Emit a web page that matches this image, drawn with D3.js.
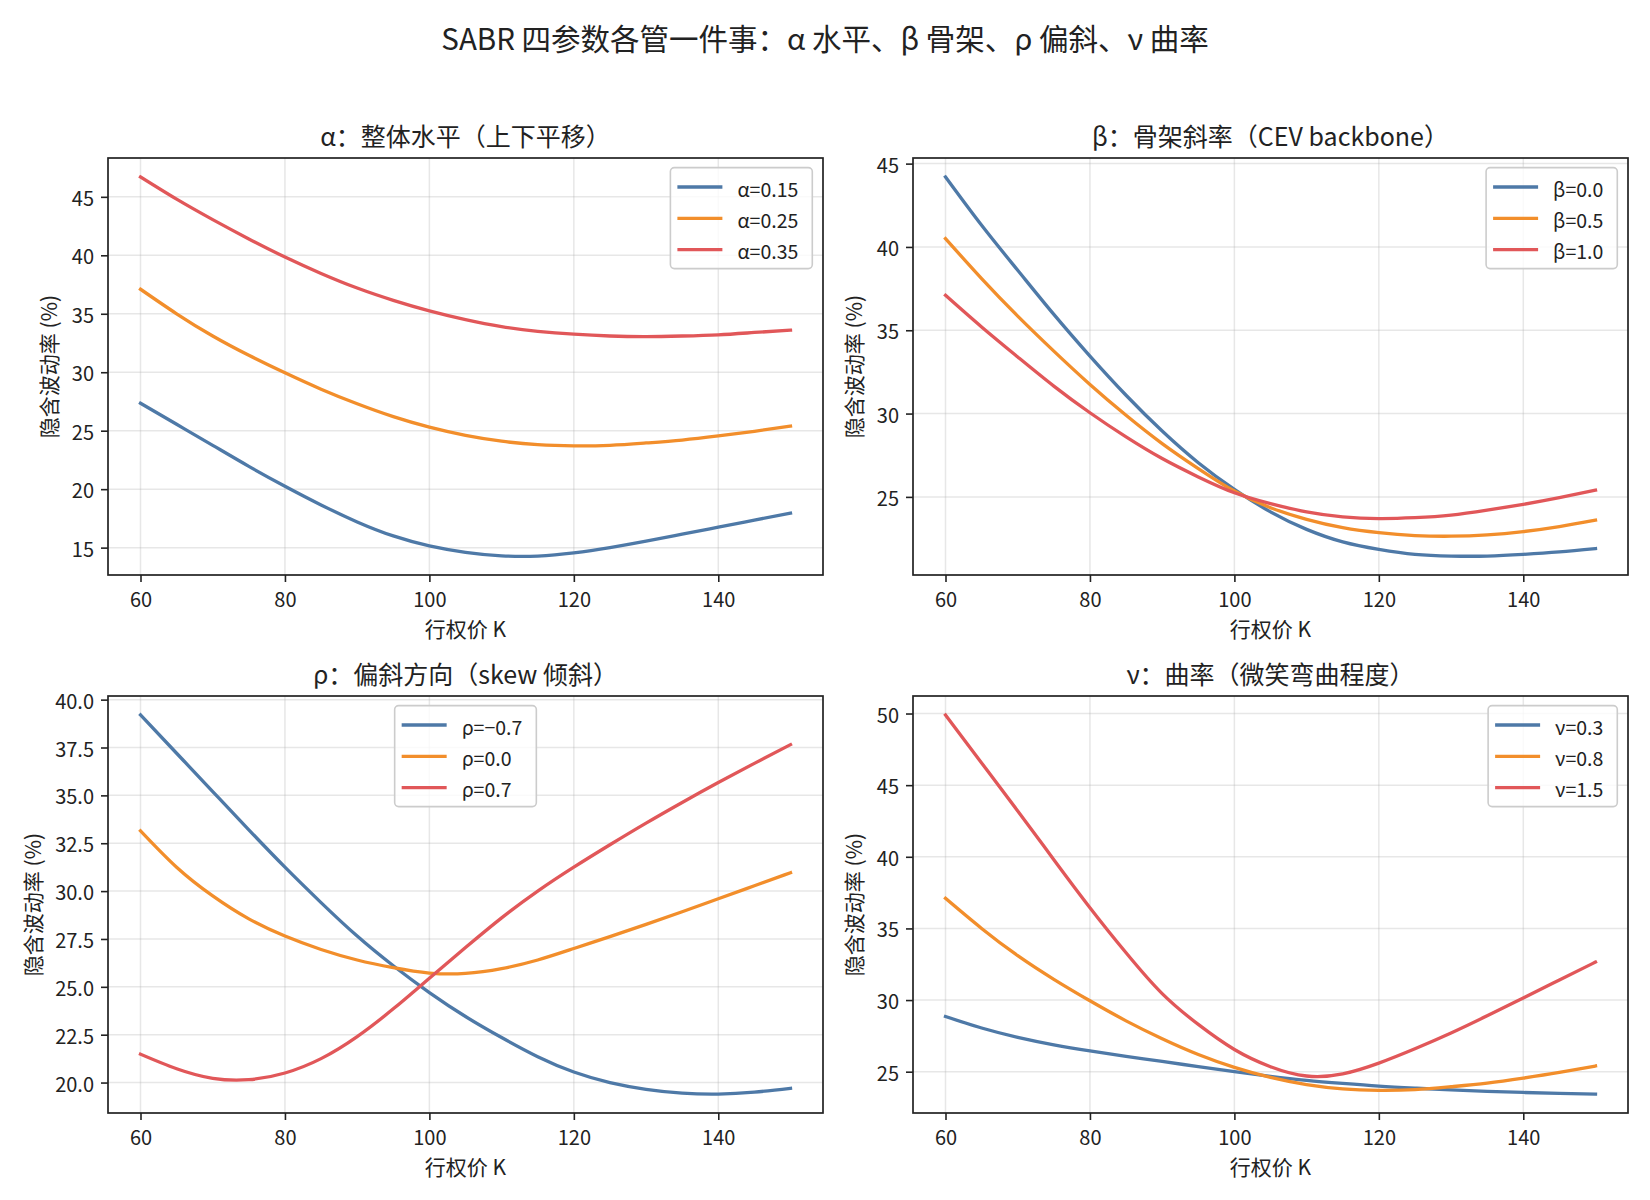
<!DOCTYPE html>
<html>
<head>
<meta charset="utf-8">
<script src="https://cdn.jsdelivr.net/npm/d3@7"></script>
<style>
  html, body { margin: 0; padding: 0; background: #ffffff; }
  svg { display: block; font-family: "Noto Sans CJK SC", "Noto Sans", sans-serif; }
</style>
</head>
<body>
<svg id="chart" width="1650" height="1200"></svg>
<script>
// ---------------- data ----------------
const strikes = [60, 65, 70, 75, 80, 85, 90, 95, 100, 105, 110, 115, 120, 125, 130, 135, 140, 145, 150];

// panel 1 : alpha
const alphaLabels = ["α=0.15", "α=0.25", "α=0.35"];
const alpha015 = [27.35, 25.55, 23.75, 21.95, 20.25, 18.65, 17.2, 16.0, 15.15, 14.6, 14.3, 14.28, 14.55, 15.0, 15.55, 16.15, 16.75, 17.35, 17.95];
const alpha025 = [37.1, 35.0, 33.1, 31.45, 29.95, 28.55, 27.3, 26.2, 25.3, 24.6, 24.1, 23.8, 23.7, 23.75, 23.95, 24.2, 24.55, 24.95, 25.4];
const alpha035 = [46.7, 44.8, 43.05, 41.4, 39.85, 38.45, 37.2, 36.15, 35.25, 34.5, 33.9, 33.5, 33.25, 33.1, 33.05, 33.1, 33.2, 33.4, 33.6];

// panel 2 : beta
const betaLabels = ["β=0.0", "β=0.5", "β=1.0"];
const beta00 = [44.2, 41.3, 38.6, 35.95, 33.45, 31.1, 28.95, 27.05, 25.45, 24.1, 23.05, 22.3, 21.85, 21.55, 21.45, 21.45, 21.55, 21.7, 21.9];
const beta05 = [40.5, 38.1, 35.85, 33.75, 31.75, 29.9, 28.2, 26.7, 25.35, 24.35, 23.65, 23.15, 22.85, 22.68, 22.64, 22.72, 22.92, 23.22, 23.6];
const beta10 = [37.1, 35.2, 33.4, 31.65, 30.05, 28.6, 27.3, 26.2, 25.25, 24.6, 24.1, 23.8, 23.7, 23.75, 23.9, 24.2, 24.55, 24.95, 25.4];

// panel 3 : rho
const rhoLabels = ["ρ=−0.7", "ρ=0.0", "ρ=0.7"];
const rhoNeg07 = [39.2, 37.2, 35.2, 33.2, 31.25, 29.4, 27.65, 26.1, 24.7, 23.45, 22.35, 21.35, 20.55, 20.0, 19.65, 19.45, 19.4, 19.5, 19.7];
const rho00 = [33.15, 31.25, 29.75, 28.55, 27.65, 26.95, 26.4, 26.0, 25.72, 25.7, 25.95, 26.4, 27.0, 27.62, 28.26, 28.92, 29.6, 30.28, 30.96];
const rhoPos07 = [21.48, 20.72, 20.22, 20.15, 20.5, 21.25, 22.4, 23.85, 25.45, 27.05, 28.6, 30.0, 31.25, 32.42, 33.55, 34.63, 35.67, 36.67, 37.65];

// panel 4 : nu
const nuLabels = ["ν=0.3", "ν=0.8", "ν=1.5"];
const nu03 = [28.85, 28.05, 27.4, 26.88, 26.45, 26.07, 25.72, 25.35, 25.0, 24.68, 24.4, 24.18, 23.99, 23.85, 23.73, 23.63, 23.55, 23.49, 23.44];
const nu08 = [37.1, 35.0, 33.1, 31.45, 29.95, 28.55, 27.3, 26.2, 25.3, 24.6, 24.1, 23.8, 23.7, 23.75, 23.95, 24.2, 24.55, 24.95, 25.4];
const nu15 = [49.9, 46.55, 43.2, 39.8, 36.45, 33.3, 30.45, 28.3, 26.55, 25.35, 24.7, 24.85, 25.6, 26.6, 27.7, 28.9, 30.15, 31.4, 32.65];

// ticks & text
const xTicks = [60, 80, 100, 120, 140];
const yTicksAlpha = [15, 20, 25, 30, 35, 40, 45];
const yTicksBeta = [25, 30, 35, 40, 45];
const yTicksRho = [20, 22.5, 25, 27.5, 30, 32.5, 35, 37.5, 40];
const yTicksNu = [25, 30, 35, 40, 45, 50];
const panelTitles = ["α：整体水平（上下平移）", "β：骨架斜率（CEV backbone）", "ρ：偏斜方向（skew 倾斜）", "ν：曲率（微笑弯曲程度）"];
const mainTitle = "SABR 四参数各管一件事：α 水平、β 骨架、ρ 偏斜、ν 曲率";
const xLabel = "行权价 K";
const yLabel = "隐含波动率 (%)";
const seriesColors = ["#4e79a7", "#f28e2b", "#e15759"];

// ---------------- layout ----------------
const panels = [
  { left: 108, top: 158, title: panelTitles[0], labels: alphaLabels, series: [alpha015, alpha025, alpha035], yTicks: yTicksAlpha, fmt: d3.format("d"), legend: "right" },
  { left: 913, top: 158, title: panelTitles[1], labels: betaLabels, series: [beta00, beta05, beta10], yTicks: yTicksBeta, fmt: d3.format("d"), legend: "right" },
  { left: 108, top: 696, title: panelTitles[2], labels: rhoLabels, series: [rhoNeg07, rho00, rhoPos07], yTicks: yTicksRho, fmt: d3.format(".1f"), legend: "center" },
  { left: 913, top: 696, title: panelTitles[3], labels: nuLabels, series: [nu03, nu08, nu15], yTicks: yTicksNu, fmt: d3.format("d"), legend: "right" }
];
const W = 715, H = 417;
const ink = "#222222";
const tickLen = 7, tickPad = 7;

const svg = d3.select("#chart");
svg.append("rect").attr("width", 1650).attr("height", 1200).attr("fill", "#ffffff");

svg.append("text")
  .attr("x", 825).attr("y", 37)
  .attr("text-anchor", "middle").attr("dominant-baseline", "central")
  .attr("font-size", 29.5).attr("fill", ink)
  .text(mainTitle);

function padded(ext) {
  const r = ext[1] - ext[0];
  return [ext[0] - 0.05 * r, ext[1] + 0.05 * r];
}

panels.forEach(p => {
  const g = svg.append("g").attr("transform", `translate(${p.left},${p.top})`);
  const x = d3.scaleLinear().domain(padded(d3.extent(strikes))).range([0, W]);
  const all = p.series.flat();
  const y = d3.scaleLinear().domain(padded(d3.extent(all))).range([H, 0]);

  // grid
  g.append("g").selectAll("line").data(xTicks).join("line")
    .attr("x1", d => x(d)).attr("x2", d => x(d)).attr("y1", 0).attr("y2", H)
    .attr("stroke", "#b0b0b0").attr("stroke-opacity", 0.3).attr("stroke-width", 1.5);
  g.append("g").selectAll("line").data(p.yTicks).join("line")
    .attr("y1", d => y(d)).attr("y2", d => y(d)).attr("x1", 0).attr("x2", W)
    .attr("stroke", "#b0b0b0").attr("stroke-opacity", 0.3).attr("stroke-width", 1.5);

  // curves
  const line = d3.line().x((d, i) => x(strikes[i])).y(d => y(d)).curve(d3.curveNatural);
  p.series.forEach((s, i) => {
    g.append("path").datum(s).attr("d", line)
      .attr("fill", "none").attr("stroke", seriesColors[i])
      .attr("stroke-width", 3.3).attr("stroke-linecap", "square");
  });

  // axes
  const xAxis = d3.axisBottom(x).tickValues(xTicks).tickSize(tickLen).tickPadding(tickPad);
  const yAxis = d3.axisLeft(y).tickValues(p.yTicks).tickFormat(p.fmt).tickSize(tickLen).tickPadding(tickPad);
  const gx = g.append("g").attr("transform", `translate(0,${H})`).call(xAxis);
  const gy = g.append("g").call(yAxis);
  [gx, gy].forEach(a => {
    a.select(".domain").remove();
    a.selectAll(".tick line").attr("stroke", ink).attr("stroke-width", 1.6);
    a.selectAll(".tick text").attr("fill", ink).attr("font-size", 20)
      .attr("font-family", "\"Noto Sans CJK SC\", sans-serif");
  });
  gx.selectAll(".tick text").attr("dy", null).attr("y", tickLen + tickPad + 9).attr("dominant-baseline", "central");
  gy.selectAll(".tick text").attr("dy", null).attr("dominant-baseline", "central");

  // spines
  g.append("rect").attr("x", 0).attr("y", 0).attr("width", W).attr("height", H)
    .attr("fill", "none").attr("stroke", ink).attr("stroke-width", 1.7);

  // title
  g.append("text").attr("x", W / 2).attr("y", -12.5)
    .attr("text-anchor", "middle").attr("font-size", 25).attr("fill", ink)
    .text(p.title);

  // x label
  g.append("text").attr("x", W / 2).attr("y", H + 53)
    .attr("text-anchor", "middle").attr("dominant-baseline", "central")
    .attr("font-size", 21).attr("fill", ink).text(xLabel);

  // y label
  const bb = gy.node().getBBox();
  const ylx = bb.x - 8.3 - 15;
  g.append("text")
    .attr("transform", `translate(${ylx},${H / 2}) rotate(-90)`)
    .attr("text-anchor", "middle").attr("dominant-baseline", "central")
    .attr("font-size", 21).attr("fill", ink).text(yLabel);

  // legend
  const lg = g.append("g");
  const texts = p.labels.map((lab, i) => lg.append("text")
    .attr("font-size", 19.5).attr("fill", ink).attr("dominant-baseline", "central").text(lab));
  const tw = d3.max(texts, t => t.node().getComputedTextLength());
  const bw = 67 + tw + 14, bh = 101;
  const bx = p.legend === "right" ? W - 10.7 - bw : (W - bw) / 2;
  const by = 9.6;
  lg.insert("rect", ":first-child").attr("x", bx).attr("y", by).attr("width", bw).attr("height", bh)
    .attr("rx", 4).attr("fill", "#ffffff").attr("fill-opacity", 0.8)
    .attr("stroke", "#cccccc").attr("stroke-width", 1.6);
  p.labels.forEach((lab, i) => {
    const cy = by + 19.4 + i * 31.3;
    lg.append("line").attr("x1", bx + 7).attr("x2", bx + 52).attr("y1", cy).attr("y2", cy)
      .attr("stroke", seriesColors[i]).attr("stroke-width", 3.3);
    texts[i].attr("x", bx + 67).attr("y", cy + 1);
  });
});
</script>
</body>
</html>
